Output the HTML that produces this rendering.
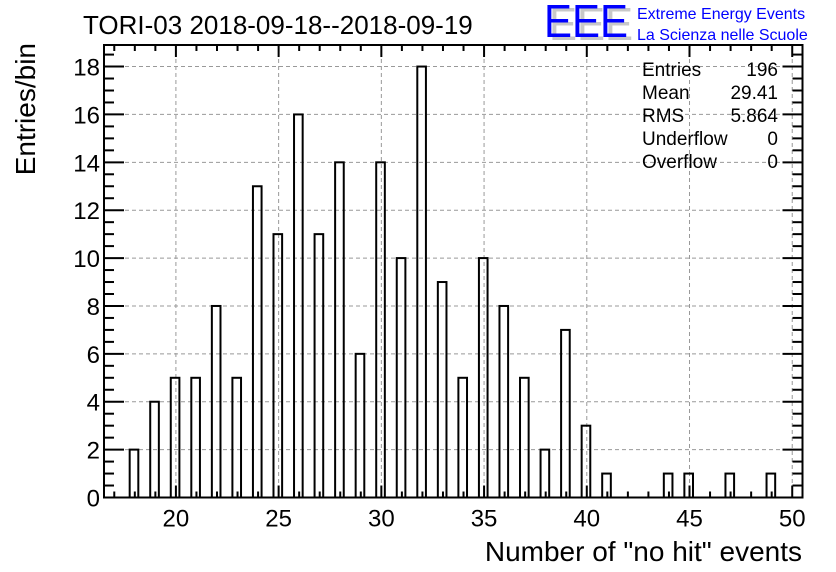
<!DOCTYPE html>
<html><head><meta charset="utf-8"><style>
body{margin:0;background:#fff;}
svg{display:block;font-family:"Liberation Sans",sans-serif;}
</style></head><body>
<svg id="c" width="836" height="572" viewBox="0 0 836 572">
<text x="83" y="34" font-size="26">TORI-03 2018-09-18--2018-09-19</text>
<g>
<text x="549" y="40" font-size="46" fill="#c8c8c8" textLength="84" lengthAdjust="spacingAndGlyphs">EEE</text>
<text x="544" y="37" font-size="46" fill="#0000ff" textLength="84" lengthAdjust="spacingAndGlyphs">EEE</text>
<text x="637" y="19" font-size="16" fill="#0000ff">Extreme Energy Events</text>
<text x="637" y="40" font-size="16" fill="#0000ff">La Scienza nelle Scuole</text>
</g>
<g id="grid"></g><g id="bars"></g><g id="axes"></g>
<g font-size="19">
<text x="642" y="76">Entries</text><text x="778" y="76" text-anchor="end">196</text>
<text x="642" y="99">Mean</text><text x="778" y="99" text-anchor="end">29.41</text>
<text x="642" y="122">RMS</text><text x="778" y="122" text-anchor="end">5.864</text>
<text x="642" y="145">Underflow</text><text x="778" y="145" text-anchor="end">0</text>
<text x="642" y="168">Overflow</text><text x="778" y="168" text-anchor="end">0</text>
</g>
<text x="802" y="561" font-size="28" text-anchor="end">Number of "no hit" events</text>
<text transform="translate(35,43) rotate(-90)" font-size="28" text-anchor="end">Entries/bin</text>
</svg>
<script>
const binValues=[18,19,20,21,22,23,24,25,26,27,28,29,30,31,32,33,34,35,36,37,38,39,40,41,44,45,47,49];
const binCounts=[2,4,5,5,8,5,13,11,16,11,14,6,14,10,18,9,5,10,8,5,2,7,3,1,1,1,1,1];
const xTicks=[20,25,30,35,40,45,50];
const yTicks=[0,2,4,6,8,10,12,14,16,18];
const L=104,R=802.5,T=45,B=497.5,X0=16.5,X1=50.5,Y0=0,Y1=18.9;
const NS="http://www.w3.org/2000/svg";
const xp=v=>L+(v-X0)/(X1-X0)*(R-L);
const yp=v=>B-(v-Y0)/(Y1-Y0)*(B-T);
function mk(p,t,a){const e=document.createElementNS(NS,t);for(const k in a)e.setAttribute(k,a[k]);document.getElementById(p).appendChild(e);return e;}
xTicks.forEach(v=>{if(v<X1){const g=mk('grid','line',{x1:xp(v),x2:xp(v),y1:T,y2:B,stroke:'#999','stroke-dasharray':'4,3'});

}});
yTicks.forEach(v=>{if(v>0){const g=mk('grid','line',{x1:L,x2:R,y1:yp(v),y2:yp(v),stroke:'#999','stroke-dasharray':'4,3'});

}});
binValues.forEach((v,i)=>{const x=xp(v-0.25),w=xp(v+0.17)-xp(v-0.25);
const r=mk('bars','rect',{x:x,y:yp(binCounts[i]),width:w,height:B-yp(binCounts[i]),fill:'none',stroke:'#000','stroke-width':2});

});
const f=mk('axes','rect',{x:L,y:T,width:R-L,height:B-T,fill:'none',stroke:'#000','stroke-width':2});


for(let v=17;v<=50;v++){const len=v%5==0?12:6;
mk('axes','line',{x1:xp(v),x2:xp(v),y1:B,y2:B-len,stroke:'#000','stroke-width':2});
mk('axes','line',{x1:xp(v),x2:xp(v),y1:T,y2:T+len,stroke:'#000','stroke-width':2});}
for(let v=0;v<=18.5;v+=0.5){const len=v%2==0?20:10;
mk('axes','line',{x1:L,x2:L+len,y1:yp(v),y2:yp(v),stroke:'#000','stroke-width':2});
mk('axes','line',{x1:R,x2:R-len,y1:yp(v),y2:yp(v),stroke:'#000','stroke-width':2});}
xTicks.forEach(v=>{const t=mk('axes','text',{x:xp(v),y:B+29,'font-size':24,'text-anchor':'middle'});t.textContent=v;

});
yTicks.forEach(v=>{const t=mk('axes','text',{x:L-4,y:yp(v)+9,'font-size':24,'text-anchor':'end'});t.textContent=v;

});
</script>
</body></html>
